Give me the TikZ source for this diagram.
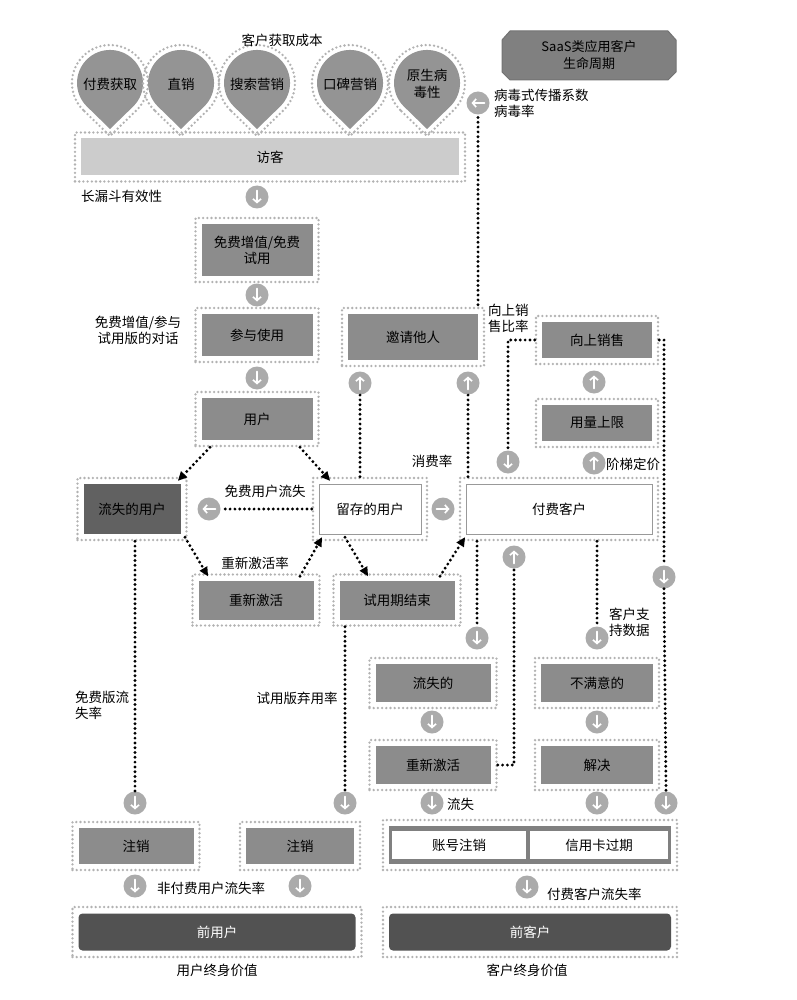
\documentclass[tikz,border=0pt]{standalone}
\usepackage{fontspec}
\setmainfont{Noto Sans CJK SC}
\usetikzlibrary{arrows.meta,calc}
\begin{document}
\begin{tikzpicture}[x=1pt,y=-1pt,
  every node/.style={font=\fontsize{13.5}{16}\selectfont,inner sep=1pt},
  outer/.style={draw=black!30,line width=2.6pt,dash pattern=on 0pt off 4.2pt,line cap=round,inner sep=0},
  inner/.style={draw=none,inner sep=0,align=center},
  dl/.style={black,line width=3.2pt,dash pattern=on 0pt off 4.8pt,line cap=round},
  da/.style={dl,-{Triangle[length=9pt,width=9pt,line width=0pt]}},
  ci/.style={circle,fill=black!33,minimum size=23pt,inner sep=0},
  cia/.style={white,line width=1.7pt,line cap=round,-{Straight Barb[length=3.5pt,width=8pt]}},
  lab/.style={align=left,anchor=west}
]
\useasboundingbox (0,0) rectangle (796,1000);
\fill[white] (0,0) rectangle (796,1000);
\newcommand\bx[7]{%
  \node[outer,minimum width=#4,minimum height=#5] (#1) at (#2,#3) {};
  \node[inner,#6,minimum width=#4-12,minimum height=#5-12] (#1i) at (#1) {#7};}
\newcommand\ca[4]{%
  \node[ci] (#1) at (#2,#3) {};
  \draw[cia,shift={(#1.center)},rotate=#4] (-6.5pt,0)--(6.5pt,0);}
% pins
\tikzset{pin/.pic={
  \draw[black!30,line width=2.6pt,dash pattern=on 0pt off 4.2pt,line cap=round]
     (-26.9pt,-26.9pt) arc[start angle=225,end angle=-45,radius=38pt] -- (0,-53pt) -- cycle;
  \fill[black!42] (-23.3pt,-23.3pt) arc[start angle=225,end angle=-45,radius=33pt] -- (0,-46pt) -- cycle;}}
\foreach \x/\t/\n in {110/付费获取/p1,181/直销/p2,257/搜索营销/p3,350/口碑营销/p4,427/{原生病\\毒性}/p5}{
  \pic at (\x,83) {pin};
  \node[align=center,font=\fontsize{13.5}{17}\selectfont] (\n) at (\x,84) {\t};
}
\node (title) at (282,40) {客户获取成本};
% SaaS sign
\draw[black!55,fill=black!50,line width=1pt] (502,40)--(510,31)--(668,31)--(676,40)--(676,72)--(668,80)--(510,80)--(502,72)--cycle;
\node[align=center,font=\fontsize{13}{17}\selectfont] (saas) at (589,55) {SaaS类应用客户\\生命周期};
% boxes
\bx{v}{270}{157}{390}{49}{fill=black!20}{访客}
\bx{b1}{257}{250}{123}{64}{fill=black!45}{免费增值/免费\\试用}
\bx{b2}{257}{335}{123}{54}{fill=black!45}{参与使用}
\bx{b3}{257}{419}{123}{54}{fill=black!45}{用户}
\bx{ls}{132}{509}{109}{62}{fill=black!62}{流失的用户}
\bx{rt}{370}{509}{114}{62}{fill=white,draw=black!40,line width=1pt}{留存的用户}
\bx{pay}{559}{509}{198}{62}{fill=white,draw=black!40,line width=1pt}{付费客户}
\bx{ra}{256}{600}{127}{51}{fill=black!45}{重新激活}
\bx{te}{397}{600}{127}{51}{fill=black!45}{试用期结束}
\bx{inv}{413}{337}{142}{58}{fill=black!45}{邀请他人}
\bx{up}{597}{340}{122}{48}{fill=black!45}{向上销售}
\bx{cap}{597}{423}{122}{48}{fill=black!45}{用量上限}
\bx{lo}{433}{683}{127}{50}{fill=black!45}{流失的}
\bx{un}{597}{683}{124}{50}{fill=black!45}{不满意的}
\bx{rb}{433}{765}{127}{50}{fill=black!45}{重新激活}
\bx{sol}{597}{765}{124}{50}{fill=black!45}{解决}
\bx{z1}{136}{846}{127}{48}{fill=black!45}{注销}
\bx{z2}{300}{846}{120}{48}{fill=black!45}{注销}
\bx{acc}{530}{845}{294}{50}{fill=black!50}{}
\node[fill=white,minimum width=134,minimum height=28,inner sep=0] (acc1) at (459,845) {账号注销};
\node[fill=white,minimum width=138,minimum height=28,inner sep=0] (acc2) at (599,845) {信用卡过期};
\node[outer,minimum width=289,minimum height=50] (fu) at (217,932) {};
\node[inner,fill=black!68,rounded corners=4pt,minimum width=277,minimum height=37,text=white] (fui) at (fu) {前用户};
\node[outer,minimum width=294,minimum height=50] (fc) at (530,932) {};
\node[inner,fill=black!68,rounded corners=4pt,minimum width=282,minimum height=37,text=white] (fci) at (fc) {前客户};
% circle icons
\ca{c1}{257}{197}{-90}
\ca{c2}{257}{295}{-90}
\ca{c3}{257}{378}{-90}
\ca{cl}{209}{509}{180}
\ca{cr}{443}{509}{0}
\ca{cu1}{360}{383}{90}
\ca{cu2}{468}{383}{90}
\ca{cv}{478}{103}{180}
\ca{cd1}{508}{462}{-90}
\ca{cu3}{594}{382}{90}
\ca{cu4}{594}{463}{90}
\ca{cr1}{664}{577}{-90}
\ca{cr2}{666}{803}{-90}
\ca{cd2}{477}{638}{-90}
\ca{cd3}{432}{722}{-90}
\ca{cu5}{514}{557}{90}
\ca{cd4}{597}{638}{-90}
\ca{cd5}{597}{722}{-90}
\ca{cd6}{597}{803}{-90}
\ca{cd7}{432}{803}{-90}
\ca{cd8}{527}{887}{-90}
\ca{cd9}{135}{803}{-90}
\ca{cd10}{345}{803}{-90}
\ca{cd11}{135}{886}{-90}
\ca{cd12}{300}{886}{-90}
% connectors
\draw[da] ([xshift=-47]b3.south) -- ([xshift=46,yshift=-4]ls.north);
\draw[da] ([xshift=43]b3.south) -- ([xshift=-40,yshift=-4]rt.north);
\draw[da] ([xshift=53,yshift=4]ls.south) -- ([xshift=-48,yshift=-3]ra.north);
\draw[da] ([xshift=44,yshift=-3]ra.north) -- ([xshift=-48,yshift=4]rt.south);
\draw[da] ([xshift=-25,yshift=4]rt.south) -- ([xshift=-29,yshift=-3]te.north);
\draw[da] ([xshift=43,yshift=-3]te.north) -- ([xshift=-94,yshift=4]pay.south);
\draw[dl] (rt.west) -- (cl.east);
\draw[dl] (rt.north -| cu1) -- (cu1.south);
\draw[dl] (pay.north -| cu2) -- (cu2.south);
\draw[dl] ([yshift=2]inv.north -| cv) -- (cv.south);
\draw[dl] (up.west) -- (up.west -| cd1) -- (cd1.north);
\draw[dl] (up.east) -- (up.east -| cr1) -- (cr1.north);
\draw[dl] (cr1.south) -- (cr2.north);
\draw[dl] (pay.south -| cd2) -- (cd2.north);
\draw[dl] (rb.east) -- (rb.east -| cu5) -- (cu5.south);
\draw[dl] (pay.south -| cd4) -- (cd4.north);
\draw[dl] (ls.south -| cd9) -- (cd9.north);
\draw[dl] (te.south -| cd10) -- (cd10.north);
% labels
\node[lab] (l1) at (80,196) {长漏斗有效性};
\node[align=center] (l2) at (138,330) {免费增值/参与\\试用版的对话};
\node (l3) at (265,491) {免费用户流失};
\node (l4) at (432,461) {消费率};
\node (l5) at (255,563) {重新激活率};
\node[lab] (l6) at (74,705) {免费版流\\失率};
\node (l7) at (297,698) {试用版弃用率};
\node[lab] (l8) at (493,103) {病毒式传播系数\\病毒率};
\node[lab] (l9) at (487,318) {向上销\\售比率};
\node[lab] (l10) at (605,464) {阶梯定价};
\node[lab] (l11) at (608,622) {客户支\\持数据};
\node[lab] (l12) at (446,804) {流失};
\node[lab] (l13) at (546,894) {付费客户流失率};
\node[lab] (l14) at (156,888) {非付费用户流失率};
\node (l15) at (217,970) {用户终身价值};
\node (l16) at (527,970) {客户终身价值};
\end{tikzpicture}
\end{document}
